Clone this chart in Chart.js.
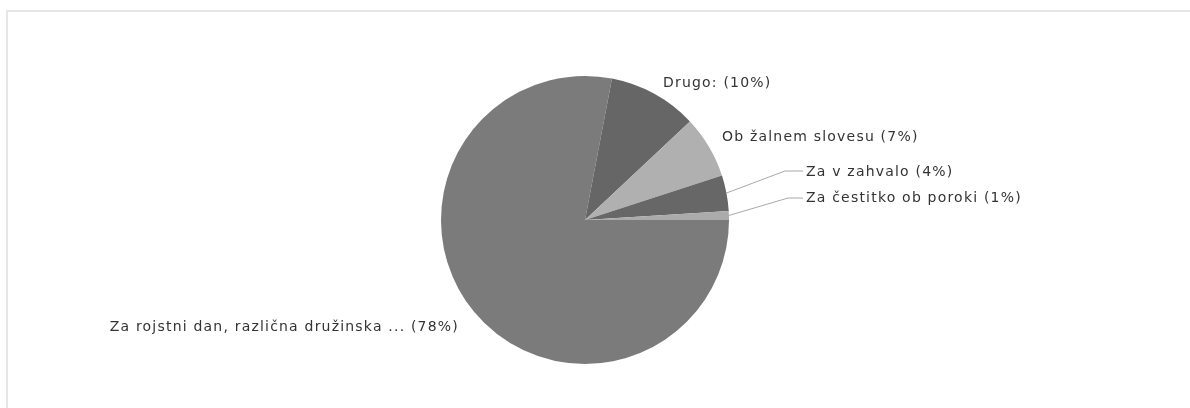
<!DOCTYPE html>
<html>
<head>
<meta charset="utf-8">
<script src="https://cdn.jsdelivr.net/npm/chart.js@4/dist/chart.umd.min.js"></script>
<style>
  html, body { margin: 0; padding: 0; background: #fff; }
  #wrap { position: relative; width: 1190px; height: 408px; overflow: hidden; }
  #frame { position: absolute; left: 6px; top: 10px; width: 1200px; height: 420px;
           border: 2px solid #e6e6e6; box-sizing: border-box; }
  canvas { position: absolute; left: 0; top: 0; }
</style>
</head>
<body>
<div id="wrap">
  <div id="frame"></div>
  <canvas id="c" width="1190" height="408"></canvas>
</div>
<script>
// Share of cards by occasion
const categories = [
  'Za rojstni dan, različna družinska ...',
  'Drugo:',
  'Ob žalnem slovesu',
  'Za v zahvalo',
  'Za čestitko ob poroki'
];
const shares = [78, 10, 7, 4, 1];
const sliceColors = ['#7b7b7b', '#666666', '#b0b0b0', '#676767', '#ababab'];

// Label placement: text anchor, alignment and optional elbow for the leader line
const labelLayout = [
  { x: 458, y: 327, align: 'right' },
  { x: 663, y: 83,  align: 'left' },
  { x: 722, y: 137, align: 'left' },
  { x: 806, y: 172, align: 'left', elbow: [785, 171] },
  { x: 806, y: 198, align: 'left', elbow: [788, 198] }
];

const sliceLabels = {
  id: 'sliceLabels',
  afterDatasetsDraw(chart) {
    const ctx = chart.ctx;
    const arcs = chart.getDatasetMeta(0).data;
    ctx.save();
    ctx.font = '14px Verdana, "DejaVu Sans", sans-serif';
    ctx.letterSpacing = '1.2px';
    ctx.textBaseline = 'middle';
    arcs.forEach((arc, i) => {
      const L = labelLayout[i];
      if (L.elbow) {
        const mid = (arc.startAngle + arc.endAngle) / 2;
        const sx = arc.x + Math.cos(mid) * arc.outerRadius;
        const sy = arc.y + Math.sin(mid) * arc.outerRadius;
        ctx.strokeStyle = '#a8a8a8';
        ctx.lineWidth = 1;
        ctx.beginPath();
        ctx.moveTo(sx, sy);
        ctx.lineTo(L.elbow[0], L.elbow[1]);
        ctx.lineTo(L.x - 3, L.elbow[1]);
        ctx.stroke();
      }
      ctx.fillStyle = '#333333';
      ctx.textAlign = L.align;
      const text = categories[i] + ' (' + shares[i] + '%)';
      ctx.fillText(text, L.align === 'right' ? L.x + 1 : L.x, L.y);
    });
    ctx.restore();
  }
};

new Chart(document.getElementById('c'), {
  type: 'pie',
  data: {
    labels: categories,
    datasets: [{
      data: shares,
      backgroundColor: sliceColors,
      borderColor: sliceColors,
      borderWidth: 0
    }]
  },
  options: {
    responsive: false,
    animation: false,
    rotation: 90,
    layout: { padding: { left: 0, right: 20, top: 76, bottom: 44 } },
    plugins: {
      legend: { display: false },
      tooltip: { enabled: false }
    }
  },
  plugins: [sliceLabels]
});
</script>
</body>
</html>
